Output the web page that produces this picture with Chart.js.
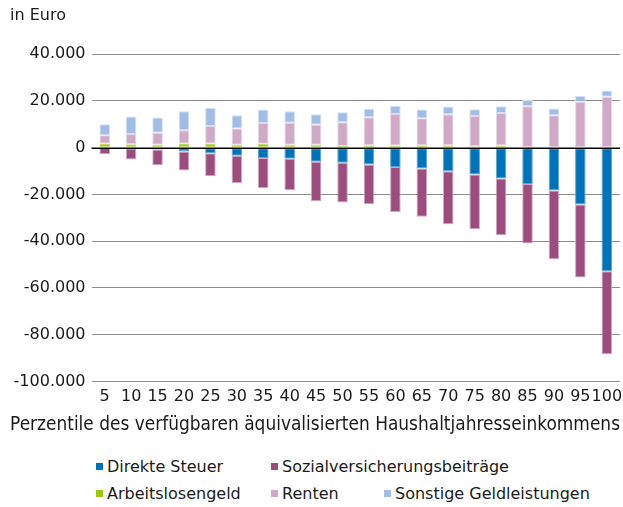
<!DOCTYPE html>
<html>
<head>
<meta charset="utf-8">
<script src="https://cdn.jsdelivr.net/npm/chart.js@4"></script>
<style>
  html, body { margin: 0; padding: 0; background: #fff; overflow: hidden; }
  #wrap { position: relative; width: 623px; height: 507px; }
  #c { position: absolute; left: 0; top: 0; }
  .lg { position: absolute; font: 16px "DejaVu Sans", sans-serif; color: #1a1a1a; white-space: nowrap; line-height: 18px; }
  .lg i { display: inline-block; width: 7px; height: 7px; margin-right: 4px; vertical-align: 2px; }
</style>
</head>
<body>
<div id="wrap">
  <canvas id="c" width="623" height="445"></canvas>
</div>
<script>
// Perzentile
const percentiles = ['5', '10', '15', '20', '25', '30', '35', '40', '45', '50',
  '55', '60', '65', '70', '75', '80', '85', '90', '95', '100'];

// Werte in Euro
const direkteSteuer = [-100, -300, -800, -1600, -2400, -3400, -4400, -4700, -6000, -6400,
  -7200, -8300, -8900, -10100, -11500, -13200, -15500, -18300, -24300, -52900];
const sozialversicherung = [-2700, -4800, -6700, -8200, -9800, -11700, -13000, -13500, -16900, -17000,
  -17000, -19200, -20600, -22600, -23400, -24300, -25500, -29400, -31200, -35500];
const arbeitslosengeld = [1800, 1500, 1300, 1800, 1800, 1300, 1700, 1300, 1300, 700,
  1100, 900, 1100, 1000, 500, 900, 0, 0, 0, 0];
const renten = [3500, 4400, 5100, 5700, 7500, 6900, 8900, 9400, 8500, 10200,
  11900, 13500, 11500, 13300, 13100, 13900, 17700, 13900, 19700, 21800];
const sonstige = [4700, 7400, 6500, 8100, 7800, 5700, 5700, 4900, 4500, 4300,
  3700, 3400, 3700, 3300, 2800, 2900, 2700, 2900, 2400, 2700];

const yTicks = [40000, 20000, 0, -20000, -40000, -60000, -80000, -100000];

const FONT = '"DejaVu Sans", sans-serif';
const TXT = '#1a1a1a';

const series = [
  { label: 'Direkte Steuer', data: direkteSteuer, color: '#0072b8', edge: '#5ea3d3' },
  { label: 'Sozialversicherungsbeiträge', data: sozialversicherung, color: '#9b4d7e', edge: '#d0a6c2' },
  { label: 'Arbeitslosengeld', data: arbeitslosengeld, color: '#9cc712', edge: '#c9e27a' },
  { label: 'Renten', data: renten, color: '#cfa9c5', edge: '#e8d5e3' },
  { label: 'Sonstige Geldleistungen', data: sonstige, color: '#a1bde6', edge: '#d2e0f3' },
];

// Nulllinie über den Balken (wie im Original)
const zeroLine = {
  id: 'zeroLine',
  afterDatasetsDraw(chart) {
    const { ctx, chartArea, scales } = chart;
    const y = Math.round(scales.y.getPixelForValue(0)) + 0.25;
    ctx.save();
    ctx.strokeStyle = '#000';
    ctx.lineWidth = 1.5;
    ctx.beginPath();
    ctx.moveTo(chartArea.left, y);
    ctx.lineTo(chartArea.right, y);
    ctx.stroke();
    ctx.restore();
  },
};

const fmt = (v) => (v < 0 ? '-' : '') + Math.abs(v).toString().replace(/\B(?=(\d{3})+(?!\d))/g, '.');

new Chart(document.getElementById('c'), {
  type: 'bar',
  data: {
    labels: percentiles,
    datasets: series.map((s) => ({
      label: s.label,
      data: s.data,
      backgroundColor: s.color,
      borderColor: s.edge,
      borderWidth: 1,
      borderSkipped: false,
      barPercentage: 0.4,
      categoryPercentage: 1,
    })),
  },
  options: {
    responsive: false,
    animation: false,
    layout: { padding: { left: 10, right: 3, top: 0, bottom: 9 } },
    plugins: {
      legend: { display: false },
      tooltip: { enabled: false },
      title: {
        display: true,
        text: 'in Euro',
        align: 'start',
        color: TXT,
        font: { family: FONT, size: 16, weight: 'normal' },
        padding: { top: 6, bottom: 29 },
      },
      // Achsentitel breiter als die Zeichenfläche -> als Untertitel über die volle Breite
      subtitle: {
        display: true,
        position: 'bottom',
        align: 'end',
        text: 'Perzentile des verfügbaren äquivalisierten Haushaltjahresseinkommens',
        color: TXT,
        font: { family: FONT, size: 18.8, weight: 'normal' },
        padding: { top: 6, bottom: 0 },
      },
    },
    scales: {
      x: {
        stacked: true,
        grid: { display: false, drawTicks: false },
        border: { display: false },
        ticks: { color: TXT, font: { family: FONT, size: 16 }, padding: 6, maxRotation: 0, autoSkip: false },
        afterFit(axis) {
          axis.height = 26;
          axis.paddingLeft = 0;
          axis.paddingRight = 0.5;
        },
      },
      y: {
        stacked: true,
        min: -100000,
        max: 40000,
        afterBuildTicks(axis) {
          axis.ticks = yTicks.map((v) => ({ value: v }));
        },
        afterFit(axis) {
          axis.width = 81.5;
        },
        grid: {
          drawTicks: false,
          color: (c) => (c.tick && c.tick.value === 0 ? 'rgba(0,0,0,0)' : '#8c8c8c'),
          lineWidth: 1,
        },
        border: { display: false },
        ticks: { color: TXT, font: { family: FONT, size: 16 }, padding: 6, callback: (v) => fmt(v) },
      },
    },
  },
  plugins: [zeroLine],
});

// Legende in zwei Zeilen wie im Original
const legendPos = [
  [96, 458], [271, 458],
  [96, 485], [271, 485], [384, 485],
];
const wrap = document.getElementById('wrap');
series.forEach((s, i) => {
  const d = document.createElement('div');
  d.className = 'lg';
  d.style.left = legendPos[i][0] + 'px';
  d.style.top = legendPos[i][1] + 'px';
  const m = document.createElement('i');
  m.style.background = s.color;
  d.appendChild(m);
  d.appendChild(document.createTextNode(s.label));
  wrap.appendChild(d);
});
</script>
</body>
</html>
